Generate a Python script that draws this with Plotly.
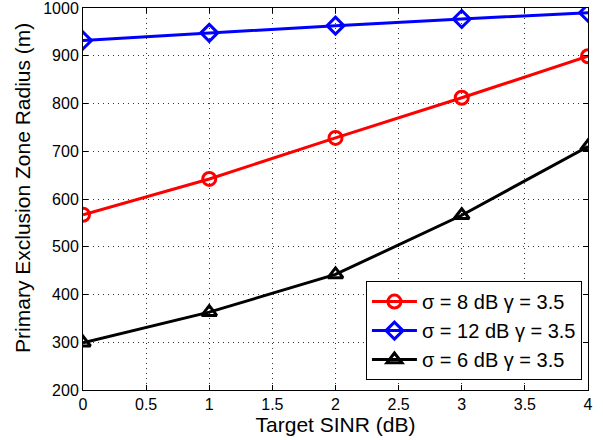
import plotly.graph_objects as go

sinr = [0, 1, 2, 3, 4]
r_sigma8 = [567, 642, 728, 812, 899]
r_sigma12 = [932, 948, 963, 977, 990]
r_sigma6 = [299, 363, 442, 566, 710]

names = ["σ = 8 dB γ = 3.5", "σ = 12 dB γ = 3.5", "σ = 6 dB γ = 3.5"]
colors = ["#ff0000", "#0000ff", "#000000"]
symbols = ["circle-open", "diamond-open", "triangle-up-open"]

fig = go.Figure()
for ys, name, c, s in zip([r_sigma8, r_sigma12, r_sigma6], names, colors, symbols):
    fig.add_trace(go.Scatter(
        x=sinr, y=ys, mode="lines+markers", name=name,
        line=dict(color=c, width=3),
        marker=dict(symbol=s, size=13, color=c, line=dict(color=c, width=3)),
    ))

axis_common = dict(
    showline=True, linecolor="black", linewidth=1, mirror="ticks",
    ticks="inside", ticklen=5, tickcolor="black",
    showgrid=True, gridcolor="#333333", griddash="1px,4px", gridwidth=1,
    zeroline=False, tickfont=dict(size=16, color="black"),
    ticklabeloverflow="allow", automargin=False,
)

fig.update_layout(
    width=603, height=440,
    margin=dict(l=83, r=15, t=8, b=50),
    paper_bgcolor="white", plot_bgcolor="white",
    font=dict(family="Liberation Sans, Arial, sans-serif", color="black"),
    xaxis=dict(range=[0, 4], tickvals=[0, 0.5, 1, 1.5, 2, 2.5, 3, 3.5, 4],
               ticktext=["0", "0.5", "1", "1.5", "2", "2.5", "3", "3.5", "4"],
               title=dict(text="Target SINR (dB)", font=dict(size=21), standoff=2), **axis_common),
    yaxis=dict(range=[200, 1000], tickvals=[200, 300, 400, 500, 600, 700, 800, 900, 1000],
               ticktext=["200", "300", "400", "500", "600", "700", "800", "900", "1000"],
               **axis_common),
    annotations=[dict(text="Primary Exclusion Zone Radius (m)", textangle=-90,
                      xref="paper", yref="paper", x=-0.1188, y=0.529,
                      xanchor="center", yanchor="middle", showarrow=False,
                      font=dict(size=21, color="black"))],
    legend=dict(x=0.988, y=0.026, xanchor="right", yanchor="bottom",
                bordercolor="black", borderwidth=1, bgcolor="white",
                font=dict(size=20), tracegroupgap=0, itemwidth=45),
    showlegend=True,
)

fig.write_html("out.html")
